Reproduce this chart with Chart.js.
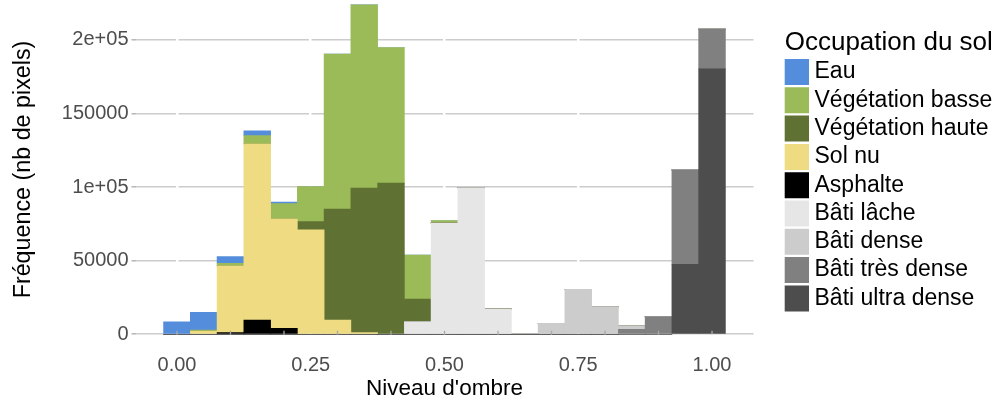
<!DOCTYPE html>
<html>
<head>
<meta charset="utf-8">
<script src="https://cdn.jsdelivr.net/npm/chart.js@4/dist/chart.umd.min.js"></script>
<style>
  html, body { margin: 0; padding: 0; width: 993px; height: 403px; overflow: hidden; background: #ffffff; }
  #wrap { position: absolute; left: 0; top: -12px; width: 993px; height: 415px; }
</style>
</head>
<body>
<div id="wrap"><canvas id="c"></canvas></div>
<script>
// ---- Data ----
const bins = [0.00, 0.05, 0.10, 0.15, 0.20, 0.25, 0.30, 0.35, 0.40, 0.45, 0.50,
              0.55, 0.60, 0.65, 0.70, 0.75, 0.80, 0.85, 0.90, 0.95, 1.00];

const seriesNames = ['Eau', 'Végétation basse', 'Végétation haute', 'Sol nu', 'Asphalte',
                     'Bâti lâche', 'Bâti dense', 'Bâti très dense', 'Bâti ultra dense'];

const eau            = [8500, 12000, 4500, 3200, 1000, 0, 0, 0, 0, 0, 0, 0, 0, 0, 0, 0, 0, 0, 0, 0, 0];
const vegBasse       = [0, 700, 1800, 5600, 10400, 23800, 105400, 124600, 92200, 29900, 1800, 0, 0, 0, 0, 0, 0, 0, 0, 0, 0];
const vegHaute       = [0, 0, 0, 0, 0, 5700, 75300, 98200, 102700, 15400, 0, 0, 0, 0, 0, 0, 0, 0, 0, 0, 0];
const solNu          = [0, 2200, 45400, 119700, 74300, 70900, 9700, 1100, 0, 0, 0, 0, 0, 0, 0, 0, 0, 0, 0, 0, 0];
const asphalte       = [0, 0, 1100, 9700, 4100, 0, 0, 0, 0, 0, 0, 0, 0, 0, 0, 0, 0, 0, 0, 0, 0];
const batiLache      = [0, 0, 0, 0, 0, 0, 0, 0, 0, 8600, 75500, 99700, 17200, 600, 0, 0, 0, 0, 0, 0, 0];
const batiDense      = [0, 0, 0, 0, 0, 0, 0, 0, 0, 0, 0, 0, 0, 0, 7500, 30600, 18600, 2200, 0, 0, 0];
const batiTresDense  = [0, 0, 0, 0, 0, 0, 0, 0, 0, 0, 0, 0, 0, 0, 0, 0, 0, 3400, 12000, 64100, 27000];
const batiUltraDense = [0, 0, 0, 0, 0, 0, 0, 0, 0, 0, 0, 0, 0, 0, 0, 0, 0, 0, 0, 47600, 180400];

const seriesColors = ['#548DDB', '#9BBB59', '#5F7234', '#EEDB82', '#000000',
                      '#E6E6E6', '#CCCCCC', '#808080', '#4D4D4D'];

const yTickValues = [0, 50000, 100000, 150000, 200000];
const yTickLabels = ['0', '50000', '1e+05', '150000', '2e+05'];
const xTickValues = [0, 0.25, 0.5, 0.75, 1];
const xTickLabels = ['0.00', '0.25', '0.50', '0.75', '1.00'];
const minorMarkValues = [0, 0.1, 0.2, 0.3, 0.4, 0.5, 0.6, 0.7, 0.8, 0.9, 1.0];

// ---- Build datasets (ggplot stacks the first level on top, so reverse) ----
const seriesValues = [eau, vegBasse, vegHaute, solNu, asphalte, batiLache, batiDense, batiTresDense, batiUltraDense];
const datasets = seriesNames.map((name, k) => ({
  label: name,
  data: seriesValues[k].map((v, i) => ({ x: bins[i], y: v })),
  backgroundColor: seriesColors[k],
  borderWidth: 0,
  barPercentage: 1,
  categoryPercentage: 1
})).reverse();

Chart.defaults.font.family = "'Liberation Sans', Arial, sans-serif";

const LEGEND_W = 239.5;
const LEGEND_LEFT = 784.7;

const tweaks = {
  id: 'tweaks',
  beforeLayout(chart) {
    const lg = chart.legend;
    if (lg && !lg.__patched) {
      const fit = lg.fit;
      lg.fit = function () { fit.call(this); this.width = LEGEND_W; };
      lg.__patched = true;
    }
  },
  afterLayout(chart) {
    const lg = chart.legend;
    if (lg) { lg.left = LEGEND_LEFT; lg.right = lg.left + lg.width; }
  },
  afterDatasetsDraw(chart) {
    const xs = chart.scales.x, ys = chart.scales.y, ctx = chart.ctx;
    const y0 = ys.getPixelForValue(0);
    ctx.save();
    ctx.strokeStyle = '#a8a8a8';
    ctx.lineWidth = 1.3;
    minorMarkValues.forEach(v => {
      const px = xs.getPixelForValue(v);
      ctx.beginPath();
      ctx.moveTo(px, y0 + 0.5);
      ctx.lineTo(px, y0 - 3.5);
      ctx.stroke();
    });
    ctx.restore();
  }
};

function noPad(scale) {
  scale.paddingTop = 0; scale.paddingBottom = 0;
  scale.paddingLeft = 0; scale.paddingRight = 0;
}

new Chart(document.getElementById('c'), {
  type: 'bar',
  data: { datasets },
  plugins: [tweaks],
  options: {
    responsive: true,
    maintainAspectRatio: false,
    animation: false,
    layout: { padding: 0 },
    plugins: {
      tooltip: { enabled: false },
      legend: {
        position: 'right',
        align: 'start',
        reverse: true,
        title: {
          display: true,
          text: 'Occupation du sol',
          color: '#000000',
          position: 'start',
          font: { size: 26, lineHeight: 0.9 },
          padding: { top: 41.8, bottom: 2.0 }
        },
        labels: {
          boxWidth: 13,
          boxHeight: 14,
          padding: 5.3,
          color: '#000000',
          font: { size: 23 },
          generateLabels(chart) {
            const items = Chart.defaults.plugins.legend.labels.generateLabels(chart);
            items.forEach(it => { it.lineWidth = 12; it.strokeStyle = it.fillStyle; it.fontColor = '#000000'; });
            return items;
          }
        }
      }
    },
    scales: {
      x: {
        type: 'linear',
        stacked: true,
        offset: false,
        min: -0.0775,
        max: 1.0775,
        afterFit(scale) { scale.height = 52; noPad(scale); },
        afterBuildTicks(scale) { scale.ticks = xTickValues.map(v => ({ value: v })); },
        grid: { z: -1, offset: false, color: '#ffffff', lineWidth: 2.5, drawTicks: false },
        border: { display: false },
        ticks: {
          autoSkip: false,
          maxRotation: 0,
          padding: 2,
          color: '#4D4D4D',
          font: { size: 20 },
          callback(value) { const i = xTickValues.indexOf(value); return i >= 0 ? xTickLabels[i] : ''; }
        },
        title: {
          display: true,
          text: "Niveau d'ombre",
          color: '#000000',
          font: { size: 22.5 },
          padding: { top: 0, bottom: 0.6 }
        }
      },
      y: {
        stacked: true,
        min: -11350,
        max: 235300,
        afterFit(scale) { scale.width = 135.5; noPad(scale); },
        afterBuildTicks(scale) { scale.ticks = yTickValues.map(v => ({ value: v })); },
        grid: { z: -2, color: '#CCCCCC', lineWidth: 1.6, tickLength: 4, tickColor: '#B0B0B0', tickWidth: 1.4 },
        border: { display: false },
        ticks: {
          padding: 3,
          color: '#4D4D4D',
          font: { size: 20 },
          callback(value) { const i = yTickValues.indexOf(value); return i >= 0 ? yTickLabels[i] : ''; }
        },
        title: {
          display: true,
          text: 'Fréquence (nb de pixels)',
          color: '#000000',
          font: { size: 23.3 },
          padding: { top: 9.5, bottom: 0 }
        }
      }
    }
  }
});
</script>
</body>
</html>
